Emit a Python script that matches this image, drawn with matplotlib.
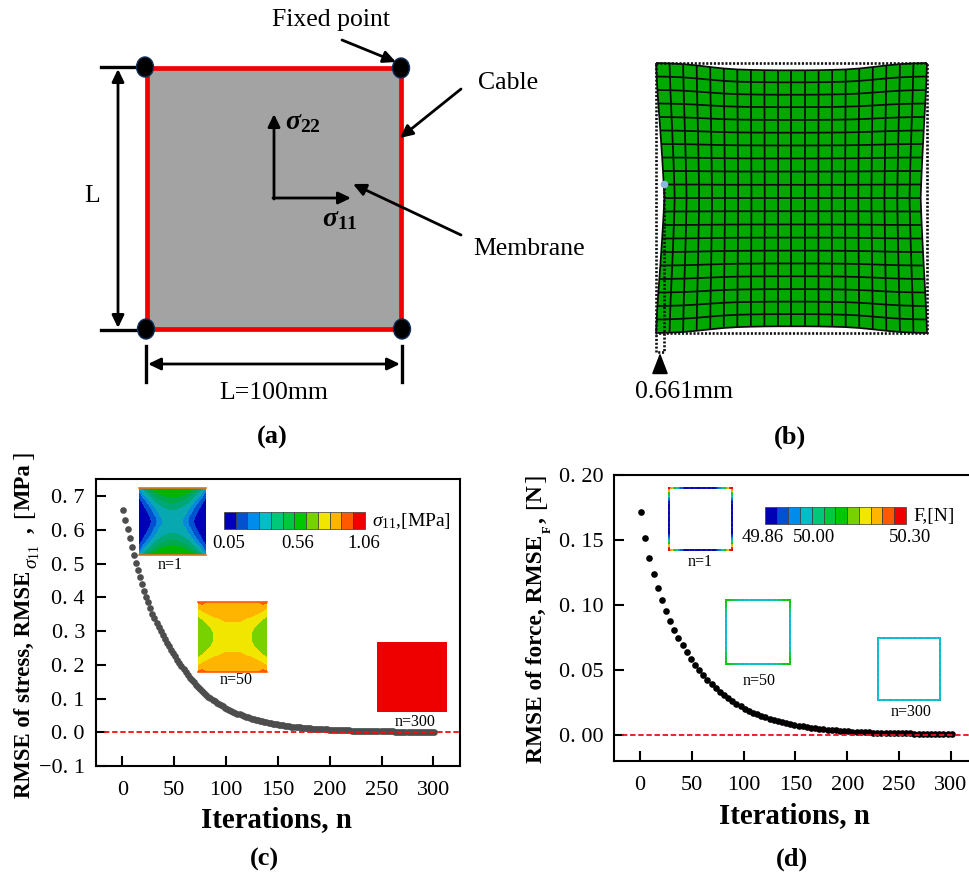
#!/usr/bin/env python3
"""Membrane/cable benchmark figure: sketches (a), (b) and RMSE convergence (c), (d)."""

import numpy as np
import matplotlib
matplotlib.use("Agg")
import matplotlib.pyplot as plt
from matplotlib.colors import ListedColormap
from matplotlib.patches import Ellipse, Rectangle

plt.rcParams['font.family'] = ['Liberation Serif', 'DejaVu Serif']
plt.rcParams['mathtext.fontset'] = 'custom'
plt.rcParams['mathtext.rm'] = 'Liberation Serif'
plt.rcParams['mathtext.it'] = 'Liberation Serif:italic'
plt.rcParams['mathtext.bf'] = 'Liberation Serif:bold'
plt.rcParams['mathtext.bfit'] = 'Liberation Serif:italic:bold'

W, H = 970, 875

# RMSE of stress, every 2nd iteration starting at n=1
rmse_stress = [
    .659, .630, .602, .575, .549, .525, .502, .480, .459, .439,
    .420, .402, .385, .368, .352, .338, .325, .312, .300, .288,
    .277, .266, .255, .245, .235, .225, .215, .205, .196, .187,
    .178, .170, .162, .155, .148, .141, .135, .128, .122, .117,
    .112, .106, .102, .097, .093, .088, .084, .080, .077, .073,
    .070, .0668, .0638, .0609, .0582, .0556, .0531, .0507, .0484, .0462,
    .0441, .0421, .0402, .0384, .0367, .0350, .0335, .0320, .0305, .0291,
    .0278, .0266, .0254, .0243, .0232, .0222, .0212, .0203, .0194, .0186,
    .0178, .0170, .0163, .0156, .0149, .0143, .0137, .0131, .0126, .0121,
    .0116, .0111, .0107, .0103, .0098, .0094, .0091, .0087, .0084, .0080,
    .0077, .0074, .0071, .0068, .0066, .0063, .0061, .0058, .0056, .0054,
    .0052, .0050, .0048, .0046, .0044, .0042, .0041, .0039, .0038, .0036,
    .0035, .0033, .0032, .0031, .0030, .0029, .0027, .0026, .0025, .0024,
    .0023, .0022, .0022, .0021, .0020, .0019, .0019, .0018, .0017, .0017,
    .0016, .0015, .0015, .0014, .0014, .0013, .0013, .0012, .0012, .0011,
    .0011,
]

# RMSE of force, every 4th iteration starting at n=1
rmse_force = [
    .1716, .1513, .1364, .1236, .1130, .1038, .0953, .0876, .0809, .0747,
    .0689, .0635, .0586, .0539, .0498, .0458, .0421, .0388, .0357, .0329,
    .0303, .0279, .0257, .0237, .0218, .0201, .0185, .0170, .0157, .0145,
    .0133, .0123, .0113, .0104, .0096, .0088, .0081, .0075, .0069, .0064,
    .0059, .0054, .0050, .0046, .0042, .0039, .0036, .0033, .0030, .0028,
    .0026, .0024, .0022, .0020, .0019, .0018, .0017, .0016, .0015, .0014,
    .0013, .0012, .0011, .0011, .0010, .0010, .0009, .0009, .0008, .0008,
    .0008, .0007, .0007, .0007, .0006, .0006,
]

x_ticks = [0, 50, 100, 150, 200, 250, 300]
stress_ticks = [-0.1, 0.0, 0.1, 0.2, 0.3, 0.4, 0.5, 0.6, 0.7]
stress_labels = ['\u22120. 1', '0. 0', '0. 1', '0. 2', '0. 3', '0. 4', '0. 5', '0. 6', '0. 7']
force_ticks = [0.0, 0.05, 0.10, 0.15, 0.20]
force_labels = ['0. 00', '0. 05', '0. 10', '0. 15', '0. 20']

palette = ['#0000b4', '#0050d2', '#008ceb', '#00bec8', '#00c878', '#00c83c',
           '#00c800', '#78d200', '#f0e600', '#ffb400', '#ff5a00', '#f00000']
# the plates read a bit darker than the colour bar in the teal/green bins
plate_palette = ['#0000b4', '#0050d2', '#0888d8', '#08a8b0', '#00a878', '#00a850',
                 '#00b400', '#78d200', '#f0e600', '#ffb400', '#ff5a00', '#f00000']

# contour levels of one quadrant of the inset plates (top-left, edge to centre)
plate_n1 = [
    [3.2, 4.2, 5.4, 6.2, 6.6, 6.8, 6.9, 6.9, 6.9],
    [1.6, 3.3, 4.2, 5.2, 5.9, 6.3, 6.5, 6.6, 6.6],
    [1.0, 2.2, 3.3, 4.2, 4.9, 5.5, 5.9, 6.1, 6.2],
    [0.6, 1.4, 2.4, 3.4, 4.1, 4.6, 5.0, 5.3, 5.5],
    [0.4, 0.9, 1.7, 2.6, 3.5, 4.0, 4.3, 4.6, 4.7],
    [0.3, 0.6, 1.2, 2.0, 2.9, 3.5, 3.8, 4.0, 4.1],
    [0.2, 0.5, 0.9, 1.5, 2.4, 3.2, 3.5, 3.6, 3.7],
    [0.1, 0.4, 0.7, 1.1, 1.9, 2.8, 3.3, 3.5, 3.6],
    [0.1, 0.3, 0.6, 1.0, 1.7, 2.5, 3.2, 3.5, 3.6],
]
plate_n50 = [
    [10.3, 10.6, 10.0, 9.6, 9.5, 9.5, 9.5, 9.5, 9.5],
    [9.2, 9.4, 9.6, 9.7, 9.7, 9.7, 9.7, 9.7, 9.7],
    [8.7, 9.0, 9.2, 9.4, 9.5, 9.6, 9.6, 9.6, 9.6],
    [8.1, 8.5, 8.8, 9.0, 9.2, 9.3, 9.4, 9.4, 9.4],
    [7.7, 7.95, 8.3, 8.7, 8.8, 8.9, 9.1, 9.2, 9.2],
    [7.4, 7.6, 7.95, 8.3, 8.6, 8.7, 8.8, 8.8, 8.8],
    [7.2, 7.4, 7.7, 7.95, 8.3, 8.5, 8.5, 8.6, 8.6],
    [7.1, 7.3, 7.5, 7.8, 8.15, 8.4, 8.4, 8.5, 8.5],
    [7.0, 7.2, 7.45, 7.75, 8.1, 8.4, 8.4, 8.4, 8.4],
]

# palette index along half a cable side (corner to middle) for the ring insets
ring_n1 = [11, 9, 6, 4, 2, 1, 0, 0, 0, 0, 0, 0, 0]
ring_n50 = [6, 6, 5, 5, 4, 4, 3, 3, 3, 3, 3, 3, 3]
ring_n300 = [3, 3, 3, 3, 3, 3, 3, 3, 3, 3, 3, 3, 3]

# deformed mesh of panel (b): edge bow along a side, decay from edge to centre
bow_side = [0, .08, .17, .28, .40, .52, .63, .74, .84, .93, 1]
bow_top = [0, .05, .15, .33, .55, .75, .88, .94, .98, 1, 1]
decay_x = [1, .62, .42, .30, .22, .15, .10, .07, .04, .02, 0]
decay_y = [1, .80, .65, .50, .40, .30, .20, .13, .08, .04, 0]


def px_axes(fig, x0, y0, x1, y1):
    """Axes placed by image pixel box"""
    return fig.add_axes([x0 / W, 1 - y1 / H, (x1 - x0) / W, (y1 - y0) / H])


def arrow(ax, start, end, style='-|>', lw=2.0, head=(0.75, 0.36)):
    ax.annotate('', xy=end, xytext=start,
                arrowprops=dict(arrowstyle=f'{style},head_length={head[0]},head_width={head[1]}',
                                lw=lw, color='black', shrinkA=0, shrinkB=0))


def mirror(half):
    half = np.asarray(half)
    return np.concatenate([half, half[-2::-1]])


def draw_panel_a(ax):
    x0, x1, y0, y1 = 147, 401, 68, 329
    ax.add_patch(Rectangle((x0, y0), x1 - x0, y1 - y0, fc='#a3a3a3', ec='#f00000', lw=3.4))
    for cx, cy in [(145, 67), (401, 68), (146, 329), (402, 329)]:
        ax.add_patch(Ellipse((cx, cy), 17, 20, fc='black', ec='#12305a', lw=1.0, zorder=3))

    # dimension lines
    ax.plot([101, 135], [67, 67], color='black', lw=2.4)
    ax.plot([101, 135], [330, 330], color='black', lw=2.4)
    arrow(ax, (118, 328), (118, 69), style='<|-|>')
    ax.plot([146, 146], [346, 382], color='black', lw=2.4)
    ax.plot([402, 402], [346, 382], color='black', lw=2.4)
    arrow(ax, (148, 364), (400, 364), style='<|-|>')

    # stress axes
    arrow(ax, (274, 199), (274, 114))
    arrow(ax, (273, 198), (351, 198))
    ax.text(285, 123, r'$\boldsymbol{\sigma}_{\mathbf{22}}$', fontsize=20, va='center')
    ax.text(322, 220, r'$\boldsymbol{\sigma}_{\mathbf{11}}$', fontsize=20, va='center')

    # callouts
    arrow(ax, (342, 40), (396, 62))
    arrow(ax, (461, 89), (400, 138))
    arrow(ax, (461, 235), (353, 184))
    ax.text(331, 20, 'Fixed point', fontsize=18.5, ha='center', va='center')
    ax.text(508, 83, 'Cable', fontsize=18.5, ha='center', va='center')
    ax.text(529, 249, 'Membrane', fontsize=18.5, ha='center', va='center')
    ax.text(92, 196, 'L', fontsize=18.5, ha='center', va='center')
    ax.text(274, 393, 'L=100mm', fontsize=18.5, ha='center', va='center')


def draw_panel_b(ax):
    x0, x1, y0, y1 = 656, 927, 63, 333
    xs = np.linspace(x0, x1, 21)
    ys = np.linspace(y0, y1, 21)

    X, Y = np.meshgrid(xs, ys)
    # inset of each edge at its midpoint, in pixels
    dx = np.where(X < (x0 + x1) / 2, 8.3, -6.3) * np.outer(mirror(bow_side), mirror(decay_x))
    dy = np.where(Y < (y0 + y1) / 2, 7.3, -6.7) * np.outer(mirror(decay_y), mirror(bow_top))
    X = X + dx
    Y = Y + dy

    outline_x = np.concatenate([X[0, :], X[:, -1], X[-1, ::-1], X[::-1, 0]])
    outline_y = np.concatenate([Y[0, :], Y[:, -1], Y[-1, ::-1], Y[::-1, 0]])
    ax.fill(outline_x, outline_y, color='#00a800', lw=0)
    for i in range(21):
        ax.plot(X[i, :], Y[i, :], color='#0a0a0a', lw=1.25, solid_capstyle='butt')
        ax.plot(X[:, i], Y[:, i], color='#0a0a0a', lw=1.25, solid_capstyle='butt')

    dots = dict(color='#111111', lw=1.9, linestyle=(0, (0.8, 0.65)))
    ax.plot([x0, x1, x1, x0, x0], [y0, y0, y1, y1, y0], **dots)
    ax.plot([664, 664, 656, 656], [184, 352, 352, 333], **dots)
    ax.plot([664], [184], 'o', color='#8fb8e0', ms=4.5)
    arrow(ax, (660, 370), (660, 353), lw=1.2, head=(1.3, 0.5))
    ax.text(684, 392, '0.661mm', fontsize=18.5, ha='center', va='center')


def draw_colorbar(ax, x0, x1, y0, y1):
    step = (x1 - x0) / len(palette)
    for i, c in enumerate(palette):
        ax.add_patch(Rectangle((x0 + i * step, y0), step, y1 - y0, fc=c, ec='#3a3a3a', lw=0.5))


def draw_plate(fig, box, quadrant, edge_color):
    half = np.asarray(quadrant)
    full = np.vstack([half, half[-2::-1]])
    full = np.hstack([full, full[:, -2::-1]])
    ax = px_axes(fig, *box)
    ax.contourf(full, levels=np.arange(13), cmap=ListedColormap(plate_palette), vmin=0, vmax=12)
    ax.axis('off')
    ax.set_zorder(6)
    ax.patch.set_visible(False)
    ax.plot([0, 16], [0, 0], color=edge_color, lw=1.2, clip_on=False)
    ax.plot([0, 16], [16, 16], color=edge_color, lw=1.2, clip_on=False)


def draw_ring(ax, x0, x1, y0, y1, half_levels):
    levels = np.concatenate([half_levels, half_levels[::-1]])
    n = len(levels)
    tx = np.linspace(x0, x1, n + 1)
    ty = np.linspace(y0, y1, n + 1)
    for i, lev in enumerate(levels):
        c = palette[lev]
        ax.plot(tx[i:i + 2], [y0, y0], color=c, lw=1.25, solid_capstyle='projecting')
        ax.plot(tx[i:i + 2], [y1, y1], color=c, lw=1.25, solid_capstyle='projecting')
        ax.plot([x0, x0], ty[i:i + 2], color=c, lw=1.25, solid_capstyle='projecting')
        ax.plot([x1, x1], ty[i:i + 2], color=c, lw=1.25, solid_capstyle='projecting')


def style_axis(ax, xlim, ylim, yticks, ylabels):
    ax.set_xlim(*xlim)
    ax.set_ylim(*ylim)
    ax.set_xticks(x_ticks)
    ax.set_xticklabels([str(t) for t in x_ticks])
    ax.set_yticks(yticks)
    ax.set_yticklabels(ylabels)
    ax.tick_params(axis='x', direction='in', length=7.5, width=1.5, labelsize=16, pad=11)
    ax.tick_params(axis='y', direction='in', length=7.5, width=1.5, labelsize=16, pad=8)
    for spine in ax.spines.values():
        spine.set_linewidth(1.5)


def vlabel(ax, x, y, s, size=16.4, weight='bold'):
    """Rotated text whose start (lower end) sits at image pixel y"""
    ax.text(x, y, s, fontsize=size, fontweight=weight, rotation=90, ha='center', va='bottom')


def main():
    fig = plt.figure(figsize=(W / 100, H / 100), dpi=100)

    # Panel (c)
    ax_c = px_axes(fig, 96, 479, 460, 766)
    n_stress = np.arange(1, 1 + 2 * len(rmse_stress), 2)
    ax_c.scatter(n_stress, rmse_stress, s=23, color='#4d4d4d', lw=0, zorder=2)
    style_axis(ax_c, (-25.4, 325.6), (-0.1, 0.751), stress_ticks, stress_labels)
    ax_c.plot([-18, 325.6], [0, 0], color='#f01010', lw=1.3, linestyle=(0, (3, 1.5)), zorder=3)

    # Panel (d), the frame runs past the right edge of the image
    ax_d = px_axes(fig, 614.3, 475, 976.6, 760.7)
    n_force = np.arange(1, 1 + 4 * len(rmse_force), 4)
    ax_d.scatter(n_force, rmse_force, s=23, color='black', lw=0, zorder=2)
    style_axis(ax_d, (-25, 325), (-0.02, 0.20), force_ticks, force_labels)
    ax_d.plot([-18, 325], [0, 0], color='#f01010', lw=1.3, linestyle=(0, (3, 1.5)), zorder=3)

    # Overlay in image pixels for the sketches and all free text
    ov = fig.add_axes([0, 0, 1, 1])
    ov.set_xlim(0, W)
    ov.set_ylim(H, 0)
    ov.axis('off')
    ov.patch.set_visible(False)
    ov.set_zorder(5)

    draw_panel_a(ov)
    draw_panel_b(ov)

    # Insets of (c)
    draw_plate(fig, (139, 488, 206, 555), plate_n1, '#e8701a')
    draw_plate(fig, (198, 602, 267, 672), plate_n50, '#ff5a00')
    ov.add_patch(Rectangle((377, 642), 70, 70, fc='#ee0000', ec='none'))
    draw_colorbar(ov, 224, 365, 512, 529)
    for x, s in [(229, '0.05'), (298, '0.56'), (364, '1.06')]:
        ov.text(x, 543, s, fontsize=13.5, ha='center', va='center')
    ov.text(372, 521, r'$\sigma_{11}$,[MPa]', fontsize=14, va='center')
    ov.text(170, 565, 'n=1', fontsize=11.5, ha='center', va='center')
    ov.text(236, 680, 'n=50', fontsize=11.5, ha='center', va='center')
    ov.text(415, 722, 'n=300', fontsize=11.5, ha='center', va='center')

    # Insets of (d)
    draw_ring(ov, 669, 732, 488, 550, ring_n1)
    draw_ring(ov, 726, 790, 600, 664, ring_n50)
    draw_ring(ov, 878, 940, 638, 700, ring_n300)
    draw_colorbar(ov, 765, 906, 507, 524)
    for x, s in [(763, '49.86'), (814, '50.00'), (910, '50.30')]:
        ov.text(x, 537, s, fontsize=13.5, ha='center', va='center')
    ov.text(913, 516, 'F,[N]', fontsize=14, va='center')
    ov.text(700, 562, 'n=1', fontsize=11.5, ha='center', va='center')
    ov.text(759, 681, 'n=50', fontsize=11.5, ha='center', va='center')
    ov.text(911, 712, 'n=300', fontsize=11.5, ha='center', va='center')

    # Axis titles, pieced together to keep the wide brackets of the original
    ov.text(277, 820, 'Iterations, n', fontsize=20.8, fontweight='bold', ha='center', va='center')
    ov.text(795, 816, 'Iterations, n', fontsize=20.8, fontweight='bold', ha='center', va='center')

    vlabel(ov, 24, 798, 'RMSE of stress, RMSE')
    vlabel(ov, 33, 569, r'$\sigma_{11}$', size=14, weight='normal')
    vlabel(ov, 25, 533, ',')
    vlabel(ov, 24, 518, '[', size=18, weight='normal')
    vlabel(ov, 24, 510, 'MPa')
    vlabel(ov, 24, 460, ']', size=18, weight='normal')

    vlabel(ov, 536, 763, 'RMSE of force, RMSE', size=16.8)
    vlabel(ov, 548, 533, 'F', size=9)
    vlabel(ov, 537, 523, ',', size=16.8)
    vlabel(ov, 536, 509, '[', size=18, weight='normal')
    vlabel(ov, 536, 502, 'N', size=16.8)
    vlabel(ov, 536, 483, ']', size=18, weight='normal')

    # Panel letters
    for x, y, s in [(272, 437, '(a)'), (790, 437, '(b)'), (264, 859, '(c)'), (792, 859, '(d)')]:
        ov.text(x, y, s, fontsize=19, fontweight='bold', ha='center', va='center')

    fig.savefig('out.png', dpi=100)


if __name__ == "__main__":
    main()
